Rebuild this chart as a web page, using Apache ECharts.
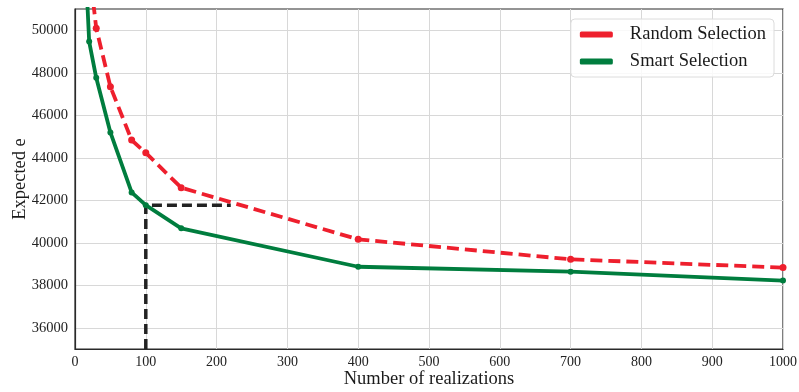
<!DOCTYPE html>
<html>
<head>
<meta charset="utf-8">
<script src="https://cdn.jsdelivr.net/npm/echarts@6/dist/echarts.min.js"></script>
<style>
  html, body { margin: 0; padding: 0; background: #fff; }
  #chart { width: 799px; height: 392px; }
</style>
</head>
<body>
<div id="chart"></div>
<script>
// Expected e versus number of realizations for two selection strategies
const randomX = [20, 30, 50, 80, 100, 150, 400, 700, 1000];
const randomY = [53000, 50090, 47340, 44830, 44230, 42590, 40160, 39220, 38830];

const smartX = [10, 20, 30, 50, 80, 100, 150, 400, 700, 1000];
const smartY = [56500, 49470, 47760, 45190, 42370, 41770, 40680, 38870, 38640, 38220];

// Dashed guide marking the smart-selection value at 100 realizations
const guideX = [100, 100, 220];
const guideY = [35000, 41770, 41770];

const xTicks = { min: 0, max: 1000, step: 100 };
const yTicks = { min: 35000, max: 51000, step: 1000, labelStep: 2000 };

const pairs = (xs, ys) => xs.map((x, i) => [x, ys[i]]);

const serif = '"Liberation Serif", "DejaVu Serif", serif';
const RED = '#ee1f2d';
const GREEN = '#007d3e';

const chart = echarts.init(document.getElementById('chart'), null, { renderer: 'canvas' });

chart.setOption({
  animation: false,
  backgroundColor: '#fff',
  grid: {
    left: 75, right: 16, top: 9, bottom: 43,
    outerBoundsMode: 'none',
    containLabel: false,
    show: true, borderColor: '#2a2a2a', borderWidth: 1.2
  },
  legend: {
    right: 25, top: 19,
    orient: 'vertical',
    data: ['Random Selection', 'Smart Selection'],
    itemWidth: 33, itemHeight: 6, itemGap: 8,
    icon: 'roundRect',
    backgroundColor: 'rgba(255,255,255,0.85)',
    borderColor: '#dcdcdc', borderWidth: 1, borderRadius: 4,
    padding: [6, 8, 6, 9],
    textStyle: { fontFamily: serif, fontSize: 18.5, color: '#1a1a1a', padding: [0, 0, 0, 12] }
  },
  xAxis: {
    type: 'value',
    min: xTicks.min, max: xTicks.max, interval: xTicks.step,
    name: 'Number of realizations',
    nameLocation: 'middle', nameGap: 21,
    nameMoveOverlap: false,
    nameTextStyle: { fontFamily: serif, fontSize: 18.5, color: '#1a1a1a' },
    axisLine: { show: true, lineStyle: { color: '#2a2a2a', width: 1.2 } },
    axisTick: { show: false },
    axisLabel: {
      fontFamily: serif, fontSize: 14, color: '#222', margin: 6,
      formatter: v => String(v)
    },
    splitLine: { show: true, lineStyle: { color: '#d8d8d8', width: 1 } }
  },
  yAxis: {
    type: 'value',
    min: yTicks.min, max: yTicks.max, interval: yTicks.step,
    name: 'Expected e',
    nameLocation: 'middle', nameGap: 45,
    nameMoveOverlap: false,
    nameTextStyle: { fontFamily: serif, fontSize: 18.5, color: '#1a1a1a' },
    axisLine: { show: true, lineStyle: { color: '#2a2a2a', width: 1.2 } },
    axisTick: { show: false },
    axisLabel: {
      fontFamily: serif, fontSize: 14.5, color: '#222', margin: 7,
      formatter: v => (v % yTicks.labelStep === 0 ? String(v) : '')
    },
    // grid lines only on every other tick (even thousands)
    splitLine: { show: true, lineStyle: { color: ['rgba(0,0,0,0)', '#d8d8d8'], width: 1 } }
  },
  series: [
    {
      name: 'guide',
      type: 'line',
      data: pairs(guideX, guideY),
      symbol: 'none',
      lineStyle: { color: '#222', width: 3.5, type: [10, 5] },
      z: 3
    },
    {
      name: 'Random Selection',
      type: 'line',
      data: pairs(randomX, randomY),
      symbol: 'circle', symbolSize: 7,
      itemStyle: { color: RED },
      lineStyle: { color: RED, width: 3.8, type: [12, 6] },
      z: 4
    },
    {
      name: 'Smart Selection',
      type: 'line',
      data: pairs(smartX, smartY),
      symbol: 'circle', symbolSize: 6,
      itemStyle: { color: GREEN },
      lineStyle: { color: GREEN, width: 3.8 },
      z: 5
    }
  ]
});
</script>
</body>
</html>
